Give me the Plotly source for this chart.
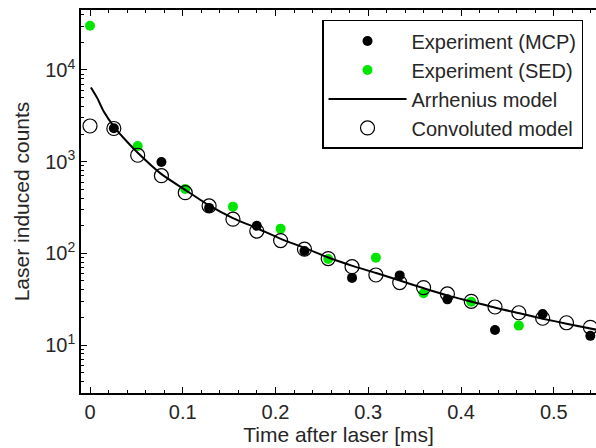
import plotly.graph_objects as go

# ---- data ----
conv_x = [0.0, 0.0257, 0.0514, 0.0770, 0.1027, 0.1284, 0.1541, 0.1798, 0.2055, 0.2312,
          0.2568, 0.2825, 0.3082, 0.3339, 0.3596, 0.3853, 0.4110, 0.4366, 0.4623, 0.4880,
          0.5137, 0.5394]
conv_y = [2450, 2300, 1175, 703, 459, 329, 236, 175, 138, 111,
          87.7, 71.6, 58.1, 48.0, 42.3, 36.1, 30.0, 26.0, 22.5, 19.6,
          17.5, 15.6]

mcp_x = [0.0257, 0.0770, 0.1284, 0.1798, 0.2312, 0.2825, 0.3339, 0.3853, 0.4366, 0.4880, 0.5394]
mcp_y = [2310, 993, 313, 200, 106, 54, 57.5, 31.5, 14.6, 21.8, 12.6]

sed_x = [0.0, 0.0514, 0.1027, 0.1541, 0.2055, 0.2568, 0.3082, 0.3596, 0.4110, 0.4623]
sed_y = [30400, 1480, 504, 323, 186, 86.9, 89.8, 36.7, 29.7, 16.3]

arr_x = [0.001, 0.008, 0.015, 0.026, 0.040, 0.0515, 0.076, 0.103, 0.128, 0.154,
         0.180, 0.2057, 0.232, 0.257, 0.283, 0.3085, 0.334, 0.360, 0.386, 0.412,
         0.438, 0.463, 0.488, 0.515, 0.546]
arr_y = [6450, 4900, 3500, 2400, 1650, 1250, 745, 490, 335, 242,
         188, 144, 114, 90, 73, 61, 50.5, 41.6, 34.6, 29.7,
         25.4, 22.2, 19.4, 17.0, 14.7]

y_tickvals = [10, 100, 1000, 10000]
y_ticktext = ["10<sup>1</sup>", "10<sup>2</sup>", "10<sup>3</sup>", "10<sup>4</sup>"]
x_tickvals = [0, 0.1, 0.2, 0.3, 0.4, 0.5]
x_ticktext = ["0", "0.1", "0.2", "0.3", "0.4", "0.5"]

series_names = ["Experiment (MCP)", "Experiment (SED)", "Arrhenius model", "Convoluted model"]

FONT = "Liberation Sans, Arial, Helvetica, sans-serif"
TXT = "#262626"
GREEN = "#00e600"

fig = go.Figure()
fig.add_trace(go.Scatter(x=mcp_x, y=mcp_y, mode="markers", name=series_names[0],
                         marker=dict(symbol="circle", size=10, color="black", line=dict(width=0))))
fig.add_trace(go.Scatter(x=sed_x, y=sed_y, mode="markers", name=series_names[1],
                         marker=dict(symbol="circle", size=10, color=GREEN, line=dict(width=0))))
fig.add_trace(go.Scatter(x=arr_x, y=arr_y, mode="lines", name=series_names[2],
                         line=dict(color="black", width=2, shape="spline", smoothing=0.8)))
fig.add_trace(go.Scatter(x=conv_x, y=conv_y, mode="markers", name=series_names[3],
                         marker=dict(symbol="circle-open", size=14, color="black",
                                     line=dict(width=1.2, color="black"))))

minor_y = [m * 10 ** e for e in range(0, 5) for m in range(2, 10)]

fig.update_layout(
    width=596, height=448,
    margin=dict(l=81, r=0, t=10, b=55),
    paper_bgcolor="white", plot_bgcolor="white",
    font=dict(family=FONT, size=20, color=TXT),
    showlegend=True,
    legend=dict(
        x=0.468, xanchor="left", y=0.974, yanchor="top",
        bgcolor="white", bordercolor="black", borderwidth=1.5,
        font=dict(family=FONT, size=20, color=TXT),
        itemwidth=78, tracegroupgap=0,
    ),
    xaxis=dict(
        range=[-0.0097, 0.5455],
        tickmode="array", tickvals=x_tickvals, ticktext=x_ticktext,
        ticks="inside", ticklen=6, tickwidth=1, tickcolor="black",
        showline=True, linecolor="black", linewidth=1.5, mirror="ticks",
        showgrid=False, zeroline=False,
        tickfont=dict(family=FONT, size=20, color=TXT),
        minor=dict(dtick=0.02, tick0=0, ticks="inside", ticklen=3, tickcolor="black", showgrid=False),
        title=dict(text="Time after laser [ms]", font=dict(family=FONT, size=21, color=TXT), standoff=6),
    ),
    yaxis=dict(
        type="log", range=[0.477, 4.654],
        tickmode="array", tickvals=y_tickvals, ticktext=y_ticktext,
        ticks="inside", ticklen=6, tickwidth=1, tickcolor="black",
        showline=True, linecolor="black", linewidth=1.5, mirror=False,
        showgrid=False, zeroline=False,
        tickfont=dict(family=FONT, size=20, color=TXT),
        minor=dict(tickmode="array", tickvals=minor_y, ticks="inside", ticklen=3,
                   tickcolor="black", showgrid=False),
        title=dict(text="Laser induced counts", font=dict(family=FONT, size=21, color=TXT), standoff=10),
    ),
)

fig.write_html("out.html",
               config={"displayModeBar": False},
               post_script="document.body.style.margin='0';document.body.style.overflow='hidden';")
